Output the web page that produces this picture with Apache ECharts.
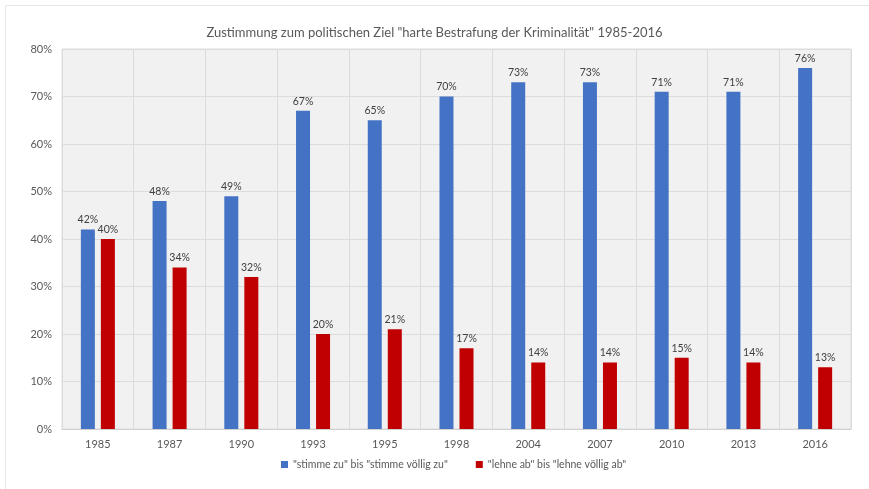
<!DOCTYPE html>
<html><head><meta charset="utf-8">
<script src="https://cdn.jsdelivr.net/npm/echarts@6/dist/echarts.min.js"></script>
<style>html,body{margin:0;padding:0;background:#fff}#c{width:869px;height:489px}</style>
</head><body><div id="c"></div>
<script>
const categories = ['1985','1987','1990','1993','1995','1998','2004','2007','2010','2013','2016'];
const agree = [42,48,49,67,65,70,73,73,71,71,76];
const reject = [40,34,32,20,21,17,14,14,15,14,13];
const yTicks = [0,10,20,30,40,50,60,70,80];
const seriesNames = ['"stimme zu" bis "stimme völlig zu"', '"lehne ab" bis "lehne völlig ab"'];
const titleText = 'Zustimmung zum politischen Ziel "harte Bestrafung der Kriminalität" 1985-2016';

const FONT = 'Lato, "Open Sans", sans-serif';
const chart = echarts.init(document.getElementById('c'));
const lbl = {show:true, position:'top', formatter: p => p.value + '%', color:'#404040', fontSize:10.5, fontFamily:FONT, distance:4};
chart.setOption({
  animation:false,
  backgroundColor:'#fff',
  graphic:[{type:'rect', shape:{x:5.5,y:5.5,width:870,height:490}, style:{fill:'none', stroke:'#e6e6e6', lineWidth:1}, silent:true}],
  title:{text:titleText, left:'center', top:21, textStyle:{color:'#595959', fontSize:13, fontWeight:'normal', fontFamily:FONT}},
  grid:{left:62, right:18, top:49, bottom:60, show:true, backgroundColor:'#f1f1f1', borderColor:'#dcdcdc', borderWidth:1},
  legend:{bottom:14, left:276, itemWidth:7, itemHeight:7, itemGap:28, icon:'rect', textStyle:{color:'#595959', fontSize:10.5, fontFamily:FONT}},
  xAxis:{type:'category', data:categories,
    axisLine:{show:true, lineStyle:{color:'#d0d0d0'}}, axisTick:{show:false},
    splitLine:{show:true, lineStyle:{color:'#dcdcdc'}},
    axisLabel:{color:'#595959', fontSize:11, fontFamily:FONT, margin:10}},
  yAxis:{type:'value', min:yTicks[0], max:yTicks[yTicks.length-1], interval:10,
    axisLine:{show:false}, axisTick:{show:false},
    splitLine:{lineStyle:{color:'#dcdcdc'}},
    axisLabel:{formatter:'{value}%', color:'#595959', fontSize:11, fontFamily:FONT, margin:10}},
  series:[
    {name:seriesNames[0], type:'bar', data:agree, barWidth:14, barGap:'43%', itemStyle:{color:'#4472C4'}, label:lbl},
    {name:seriesNames[1], type:'bar', data:reject, barWidth:14, itemStyle:{color:'#C00000'}, label:lbl}
  ]
});
</script></body></html>
